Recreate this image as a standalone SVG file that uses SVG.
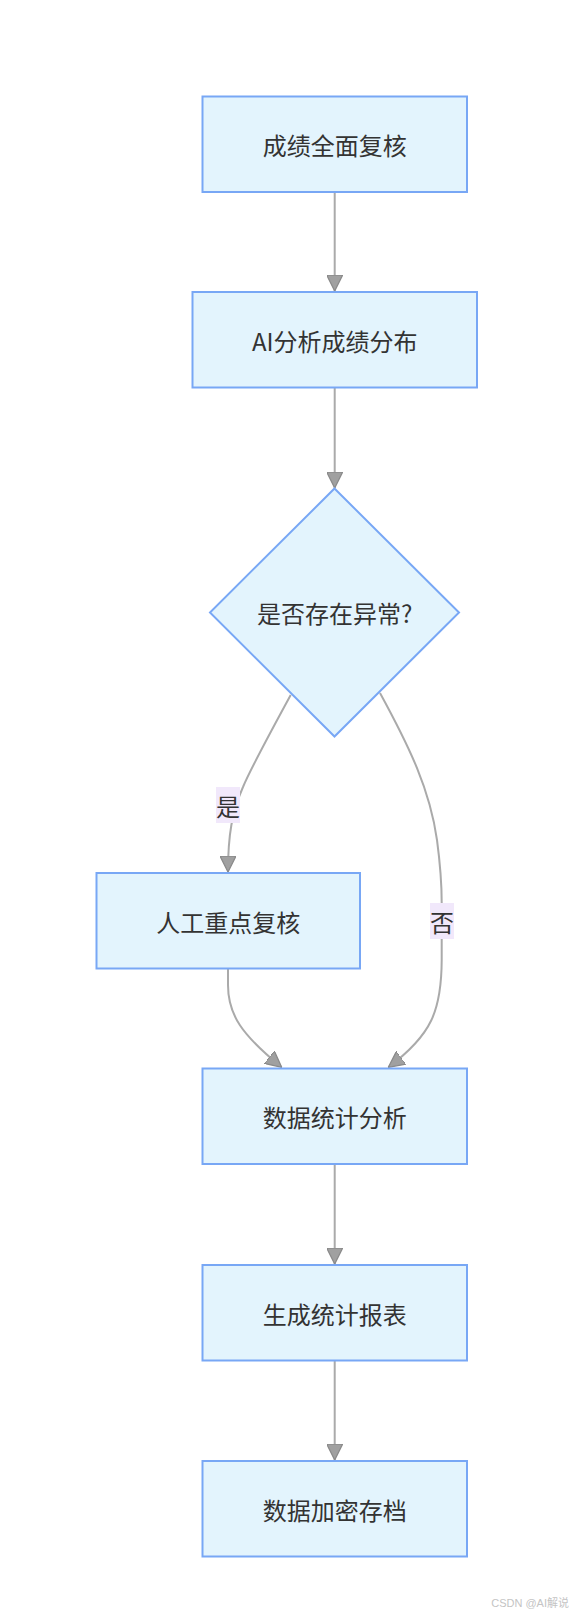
<svg xmlns="http://www.w3.org/2000/svg" width="573" height="1614" viewBox="0 0 573 1614">
<style>
.node rect,.node polygon{fill:#e3f4fd;stroke:#78a7f5;stroke-width:2}
.node text,.label text{font-family:"Noto Sans CJK SC","Noto Sans",sans-serif;font-size:24px;fill:#333;text-anchor:middle;dominant-baseline:central}
.edge{fill:none;stroke:#aaaaaa;stroke-width:2}
.label rect{fill:#f1e8fb}
.wm{font-family:"Liberation Sans","Noto Sans CJK SC",sans-serif;font-size:11px;fill:#c4c4c4}
</style>
<defs>
<marker id="arr" viewBox="0 0 10 10" refX="10" refY="5" markerWidth="16" markerHeight="16" markerUnits="userSpaceOnUse" orient="auto">
<path d="M0,0 L10,5 L0,10 z" fill="#a0a0a0" stroke="#8a8a8a" stroke-width="0.8"/>
</marker>
</defs>
<rect width="573" height="1614" fill="#ffffff"/>
<g id="connectors">
<path class="edge" d="M334.7,192 L334.7,291" marker-end="url(#arr)"/>
<path class="edge" d="M334.7,388 L334.7,488" marker-end="url(#arr)"/>
<path class="edge" d="M290.7,695 C270,733 250,770 243,787 C232,812 228,835 228,872" marker-end="url(#arr)"/>
<path class="edge" d="M380,693 C410,748 430,790 437,840 C441,870 441.7,890 441.7,903 L441.7,960 C441.5,1010 432,1035 388.3,1067.3" marker-end="url(#arr)"/>
<path class="edge" d="M228,969 L228,985 C228,1015 242,1035 281.7,1067.3" marker-end="url(#arr)"/>
<path class="edge" d="M334.7,1164 L334.7,1264" marker-end="url(#arr)"/>
<path class="edge" d="M334.7,1361 L334.7,1460" marker-end="url(#arr)"/>
</g>
<g id="edge-labels">
<g class="label" id="label-yes"><rect x="216" y="787" width="24" height="36"/><text x="228" y="805">是</text></g>
<g class="label" id="label-no"><rect x="430" y="903" width="24" height="36"/><text x="442" y="921">否</text></g>
</g>
<g class="node" id="n1"><rect x="202.5" y="96.5" width="264.5" height="95.5"/><text x="334.7" y="144">成绩全面复核</text></g>
<g class="node" id="n2"><rect x="192.5" y="292" width="284.5" height="95.5"/><text x="334.7" y="340">AI分析成绩分布</text></g>
<g class="node" id="n3"><polygon points="334.5,488.5 459,612.5 334.5,736.5 210,612.5"/><text x="334.7" y="612">是否存在异常?</text></g>
<g class="node" id="n4"><rect x="96.5" y="873" width="263.5" height="95.5"/><text x="228.3" y="921">人工重点复核</text></g>
<g class="node" id="n5"><rect x="202.5" y="1068.5" width="264.5" height="95.5"/><text x="334.7" y="1116.5">数据统计分析</text></g>
<g class="node" id="n6"><rect x="202.5" y="1265" width="264.5" height="95.5"/><text x="334.7" y="1313">生成统计报表</text></g>
<g class="node" id="n7"><rect x="202.5" y="1461" width="264.5" height="95.5"/><text x="334.7" y="1509">数据加密存档</text></g>
<text class="wm" x="569" y="1607" text-anchor="end">CSDN @AI解说</text>
</svg>
